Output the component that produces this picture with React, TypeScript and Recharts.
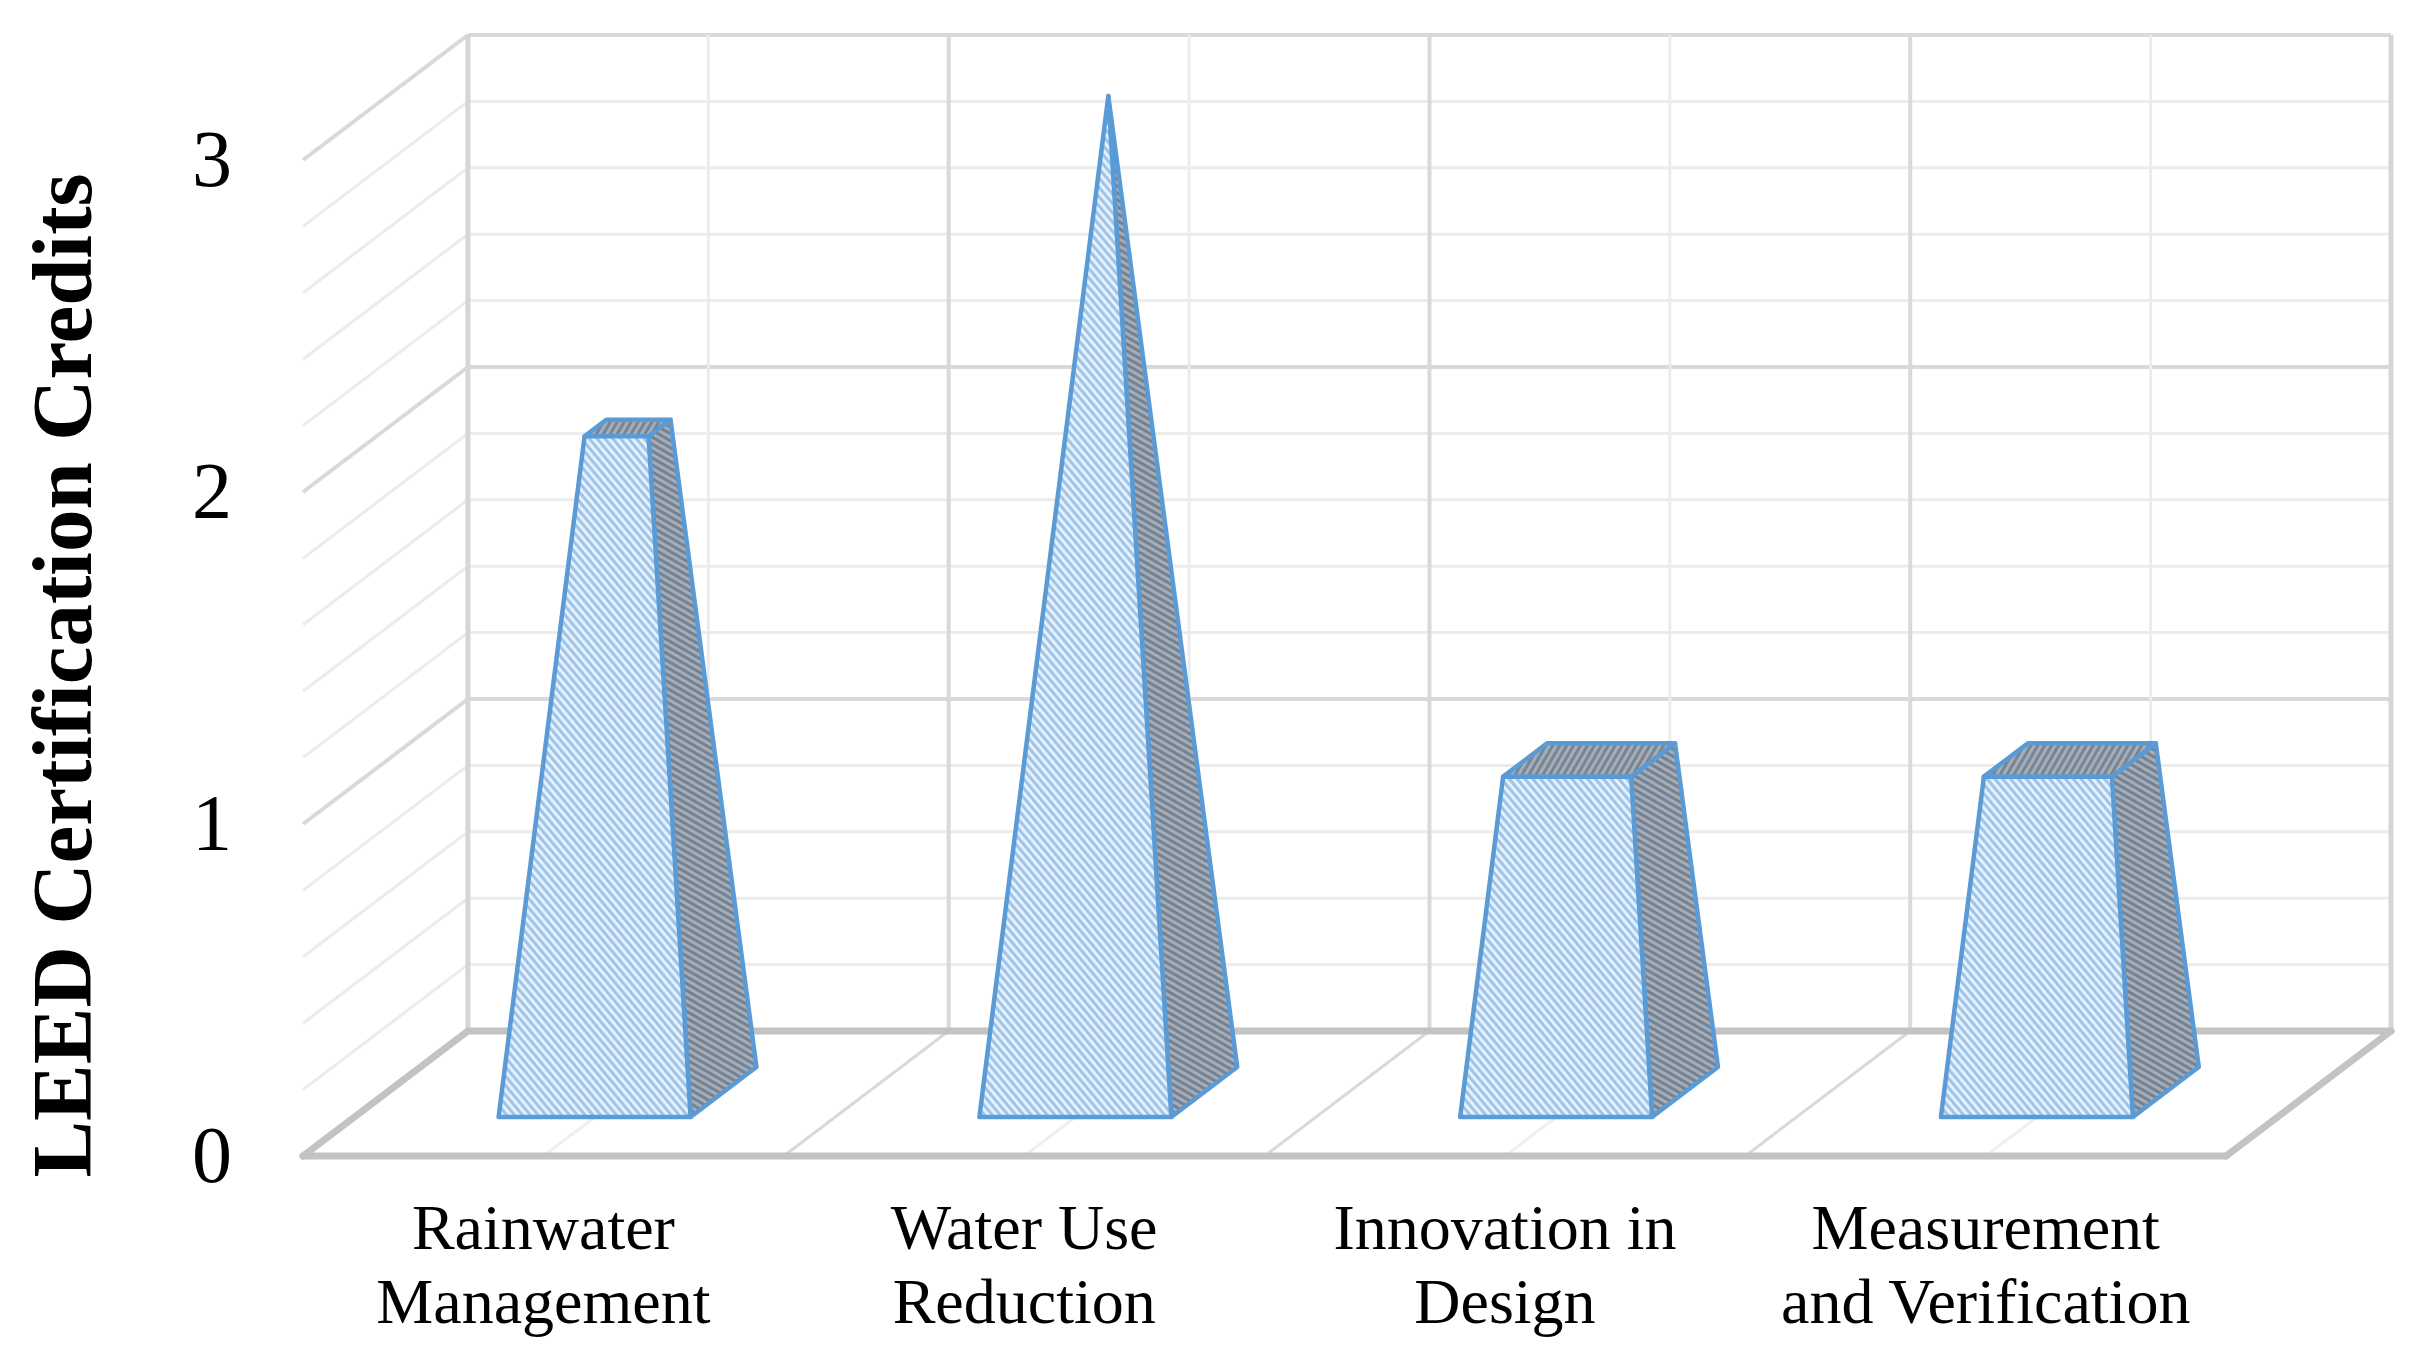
import React from 'react';
import { BarChart, Bar, XAxis, YAxis, ReferenceLine } from 'recharts';

// chart values
const categories = ['Rainwater\nManagement', 'Water Use\nReduction', 'Innovation in\nDesign', 'Measurement\nand Verification'];
const credits = [2, 3, 1, 1];
const yTicks = [0, 1, 2, 3];
const xTicks = [0.5, 1.5, 2.5, 3.5];

// 3D box layout (depth of the box expressed in axis units)
const DEPTH_X = 0.343;
const DEPTH_Y = 0.3765;
const BAR_GAP = 0.3;
const BAR_FRONT = 0.312;
const BAR_BACK = 0.712;
const Y_TOP = Math.max(...credits);
const N = categories.length;

const SERIF = '"Liberation Serif", "Times New Roman", serif';
const W = 2433;
const H = 1358;
const MARGIN = { top: 35, right: 42, bottom: 22, left: 123 };

const data = categories.map((name, i) => ({ name, pos: i + 0.5, credits: credits[i] }));

const Pyramid = (props: any) => {
  const { x, y, width, height, payload, index } = props;
  const v = payload.credits;
  if (!v) return null;
  const pxVal = height / v;
  const pxCat = width / (1 - 2 * BAR_GAP);
  const depthX = DEPTH_X * pxCat;
  const depthY = DEPTH_Y * pxVal;
  const xc = x + width / 2;
  const base = y + height;
  const P = (dx: number, h: number, d: number) => `${xc + dx + d * depthX},${base - h * pxVal - d * depthY}`;
  const t = 1 - v / Y_TOP;
  const hw = width / 2;
  const hwT = hw * t;
  const dc = (BAR_FRONT + BAR_BACK) / 2;
  const hdT = ((BAR_BACK - BAR_FRONT) / 2) * t;
  const front = [P(-hw, 0, BAR_FRONT), P(hw, 0, BAR_FRONT), P(hwT, v, dc - hdT), P(-hwT, v, dc - hdT)];
  const side = [P(hw, 0, BAR_FRONT), P(hw, 0, BAR_BACK), P(hwT, v, dc + hdT), P(hwT, v, dc - hdT)];
  const top = [P(-hwT, v, dc - hdT), P(hwT, v, dc - hdT), P(hwT, v, dc + hdT), P(-hwT, v, dc + hdT)];
  const edge = { stroke: '#5b9bd5', strokeWidth: 4.5, strokeLinejoin: 'round' as const };
  return (
    <g>
      {index === 0 && (
        <defs>
          <pattern id="hatchFront" width="6" height="6" patternUnits="userSpaceOnUse" patternTransform="rotate(-40)">
            <rect width="6" height="6" fill="#e6f0fa" />
            <rect width="3" height="6" fill="#9fc4ea" />
          </pattern>
          <pattern id="hatchSide" width="6" height="6" patternUnits="userSpaceOnUse" patternTransform="rotate(-60)">
            <rect width="6" height="6" fill="#a4adb8" />
            <rect width="3" height="6" fill="#748292" />
          </pattern>
          <pattern id="hatchTop" width="6" height="6" patternUnits="userSpaceOnUse" patternTransform="rotate(30)">
            <rect width="6" height="6" fill="#a4adb8" />
            <rect width="3" height="6" fill="#778594" />
          </pattern>
        </defs>
      )}
      <polygon points={side.join(' ')} fill="url(#hatchSide)" {...edge} />
      {t > 0 && <polygon points={top.join(' ')} fill="url(#hatchTop)" {...edge} />}
      <polygon points={front.join(' ')} fill="url(#hatchFront)" {...edge} />
    </g>
  );
};

const CategoryTick = (props: any) => {
  const { x, y, payload } = props;
  const lines = categories[Math.floor(payload.value)].split('\n');
  return (
    <text x={x} y={y} textAnchor="middle" fontFamily={SERIF} fontSize={64} fill="#000">
      {lines.map((line, i) => (
        <tspan key={i} x={x} dy={i === 0 ? 93 : 74}>{line}</tspan>
      ))}
    </text>
  );
};

const ValueTick = (props: any) => {
  const { x, y, payload } = props;
  return (
    <text x={x} y={y} dy={26} textAnchor="end" fontFamily={SERIF} fontSize={80} fill="#000">
      {payload.value}
    </text>
  );
};

const TitleLabel = (props: any) => {
  const { viewBox } = props;
  const tx = viewBox.x - 32;
  const ty = viewBox.y + viewBox.height / 2 + 80;
  return (
    <text x={tx} y={ty} transform={`rotate(-90, ${tx}, ${ty})`} textAnchor="middle" fontFamily={SERIF} fontWeight="bold" fontSize={85} fill="#000">
      LEED Certification Credits
    </text>
  );
};

const seg = (x1: number, y1: number, x2: number, y2: number) => [{ x: x1, y: y1 }, { x: x2, y: y2 }];

const buildWalls = () => {
  const lines: React.ReactNode[] = [];
  const minor = { stroke: '#ececec', strokeWidth: 3 };
  const major = { stroke: '#d9d9d9', strokeWidth: 4 };
  // horizontal gridlines on left and back walls, every 0.2
  for (let k = 1; k <= Y_TOP * 5; k++) {
    const v = k / 5;
    const style = k % 5 === 0 ? major : minor;
    lines.push(<ReferenceLine key={`lw${k}`} segment={seg(0, v, DEPTH_X, v + DEPTH_Y)} ifOverflow="visible" {...style} />);
    lines.push(<ReferenceLine key={`bw${k}`} segment={seg(DEPTH_X, v + DEPTH_Y, N + DEPTH_X, v + DEPTH_Y)} ifOverflow="visible" {...style} />);
  }
  // vertical gridlines on the back wall and depth lines on the floor
  for (let c = 0; c <= N * 2; c++) {
    const u = c / 2;
    const edgeLine = c === 0 || c === N * 2;
    const style = edgeLine ? { stroke: '#d6d6d6', strokeWidth: 5 } : c % 2 === 0 ? major : minor;
    lines.push(<ReferenceLine key={`bv${c}`} segment={seg(u + DEPTH_X, DEPTH_Y, u + DEPTH_X, Y_TOP + DEPTH_Y)} ifOverflow="visible" {...style} />);
    if (!edgeLine) {
      const floorStyle = c % 2 === 0 ? { stroke: '#d9d9d9', strokeWidth: 3 } : { stroke: '#efefef', strokeWidth: 3 };
      lines.push(<ReferenceLine key={`fd${c}`} segment={seg(u, 0, u + DEPTH_X, DEPTH_Y)} ifOverflow="visible" {...floorStyle} />);
    }
  }
  // floor outline
  const floor = { stroke: '#c3c3c3', strokeWidth: 7, strokeLinecap: 'round' as const };
  lines.push(<ReferenceLine key="f1" segment={seg(0, 0, N, 0)} ifOverflow="visible" {...floor} />);
  lines.push(<ReferenceLine key="f2" segment={seg(0, 0, DEPTH_X, DEPTH_Y)} ifOverflow="visible" {...floor} />);
  lines.push(<ReferenceLine key="f3" segment={seg(N, 0, N + DEPTH_X, DEPTH_Y)} ifOverflow="visible" {...floor} />);
  lines.push(<ReferenceLine key="f4" segment={seg(DEPTH_X, DEPTH_Y, N + DEPTH_X, DEPTH_Y)} ifOverflow="visible" {...floor} />);
  return lines;
};

// both layers share the same axes so their scales line up exactly
const axes = (showText: boolean) => [
  <XAxis
    key="x"
    type="number"
    dataKey="pos"
    domain={[0, N + DEPTH_X]}
    ticks={xTicks}
    axisLine={false}
    tickLine={false}
    tickSize={0}
    tickMargin={0}
    height={180}
    interval={0}
    tick={showText ? <CategoryTick /> : false}
  />,
  <YAxis
    key="y"
    type="number"
    domain={[0, Y_TOP + DEPTH_Y]}
    ticks={yTicks}
    axisLine={false}
    tickLine={false}
    tickSize={0}
    tickMargin={71}
    width={180}
    interval={0}
    tick={showText ? <ValueTick /> : false}
    label={showText ? { content: <TitleLabel /> } : undefined}
  />,
];

const Empty = () => <g />;

export default function App() {
  return (
    <div style={{ position: 'absolute', left: 0, top: 0, width: W, height: H, background: '#fff' }}>
      {/* back layer: walls, floor, axis text */}
      <div style={{ position: 'absolute', left: 0, top: 0 }}>
        <BarChart width={W} height={H} data={data} margin={MARGIN} barCategoryGap="30%">
          {axes(true)}
          {buildWalls()}
          <Bar dataKey="credits" shape={<Empty />} isAnimationActive={false} />
        </BarChart>
      </div>
      {/* front layer: pyramids */}
      <div style={{ position: 'absolute', left: 0, top: 0 }}>
        <BarChart width={W} height={H} data={data} margin={MARGIN} barCategoryGap="30%">
          {axes(false)}
          <Bar dataKey="credits" shape={<Pyramid />} isAnimationActive={false} />
        </BarChart>
      </div>
    </div>
  );
}
